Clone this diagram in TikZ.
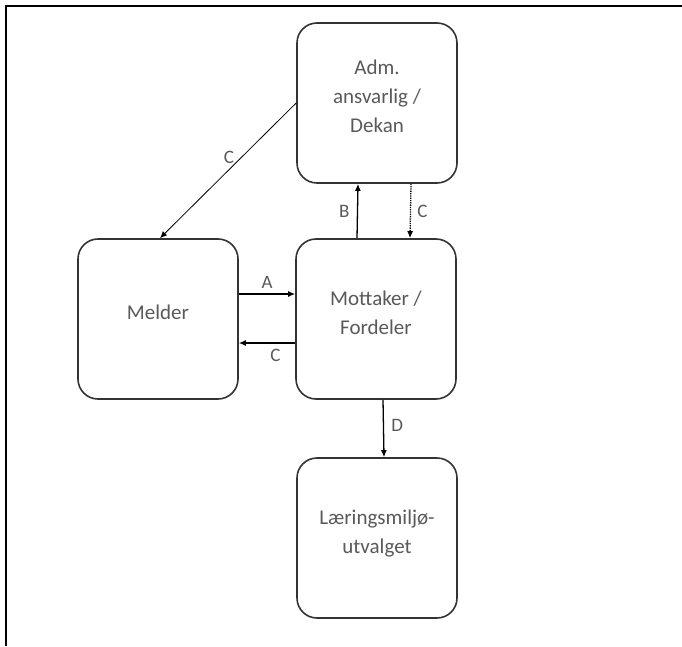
\documentclass[tikz,border=0pt]{standalone}
\usepackage{fontspec}
\setmainfont{Carlito}
\usetikzlibrary{arrows.meta}

\begin{document}
\begin{tikzpicture}[x=1pt,y=1pt,
    box/.style={draw=black!80, line width=1.6pt, rounded corners=20pt,
      minimum width=160pt, minimum height=160pt, align=center,
      text=black!65, font=\fontsize{21}{29}\selectfont},
    link/.style={line width=1.3pt, -{Latex[length=7pt,width=6pt]}},
    tag/.style={text=black!65, font=\fontsize{19}{22}\selectfont}]
  % page size and the outer frame (top and left only)
  \useasboundingbox (0,0) rectangle (682,646);
  \draw[line width=2pt] (6,0) -- (6,640) -- (682,640);

  % --- boxes ---
  \node[box] (adm) at (377,543) {Adm.\\ansvarlig /\\Dekan\\[-16pt]};
  \node[box] (melder) at (158,327) {Melder\\[-16pt]};
  \node[box] (mottaker) at (376,327) {Mottaker /\\Fordeler\\[-16pt]};
  \node[box] (laering) at (377,108) {Læringsmiljø-\\utvalget\\[-16pt]};

  % --- connectors ---
  \draw[link] ([yshift=25pt]melder.east) -- ([yshift=25pt]mottaker.west)
    node[tag, midway, above=2pt] {A};
  \draw[link] ([yshift=-24pt]mottaker.west) -- ([yshift=-24pt]melder.east)
    node[tag, pos=0.35, below=2pt] {C};
  \draw[link] ([xshift=-19pt]mottaker.north) -- ([xshift=-19pt]adm.south)
    node[tag, midway, left=4pt] {B};
  \draw[link, densely dotted] ([xshift=34pt]adm.south) -- ([xshift=34pt]mottaker.north)
    node[tag, midway, right=3pt] {C};
  \draw[link] ([xshift=7pt]mottaker.south) -- ([xshift=7pt]laering.north)
    node[tag, pos=0.45, right=4pt] {D};
  \draw[line width=0.8pt, -{Latex[length=7pt,width=6pt]}] (adm.west) -- ([xshift=2pt]melder.north)
    node[tag, pos=0.4, left=4pt] {C};
\end{tikzpicture}
\end{document}
